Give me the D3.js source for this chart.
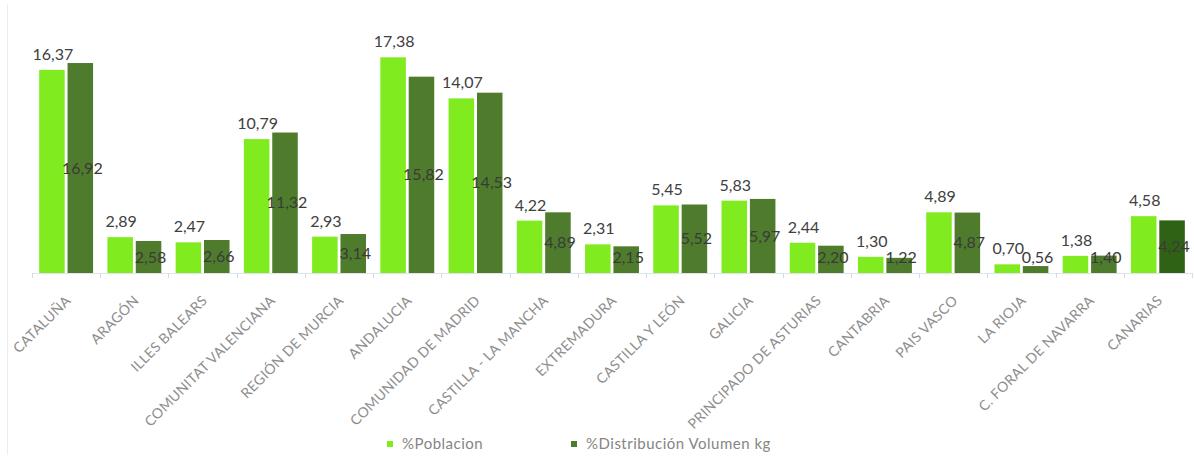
<!DOCTYPE html>
<html>
<head>
<meta charset="utf-8">
<script src="https://cdn.jsdelivr.net/npm/d3@7"></script>
<style>
  html, body { margin: 0; padding: 0; background: #ffffff; }
  svg { display: block; }
</style>
</head>
<body>
<div id="chart"></div>
<script>
const categories = ["CATALUÑA", "ARAGÓN", "ILLES BALEARS", "COMUNITAT VALENCIANA", "REGIÓN DE MURCIA",
  "ANDALUCIA", "COMUNIDAD DE MADRID", "CASTILLA - LA MANCHA", "EXTREMADURA", "CASTILLA Y LEÓN",
  "GALICIA", "PRINCIPADO DE ASTURIAS", "CANTABRIA", "PAIS VASCO", "LA RIOJA", "C. FORAL DE NAVARRA", "CANARIAS"];
const poblacion = [16.37, 2.89, 2.47, 10.79, 2.93, 17.38, 14.07, 4.22, 2.31, 5.45, 5.83, 2.44, 1.30, 4.89, 0.70, 1.38, 4.58];
const distribucion = [16.92, 2.58, 2.66, 11.32, 3.14, 15.82, 14.53, 4.89, 2.15, 5.52, 5.97, 2.20, 1.22, 4.87, 0.56, 1.40, 4.24];
const seriesNames = ["%Poblacion", "%Distribución Volumen kg"];

const W = 1194, H = 459;
const lightGreen = "#80ec20", darkGreen = "#4e7c2c", darkerGreen = "#2f6214";
const fmt = v => v.toFixed(2).replace(".", ",");

const svg = d3.select("#chart").append("svg").attr("width", W).attr("height", H);

// faint chart frame line on the left
svg.append("line").attr("x1", 7.5).attr("x2", 7.5).attr("y1", 4).attr("y2", 455)
  .attr("stroke", "#ececec").attr("stroke-width", 1);

const x0 = d3.scaleBand().domain(categories).range([32, 1192]).paddingInner(0.21).paddingOuter(0.105);
const x1 = d3.scaleBand().domain([0, 1]).range([0, x0.bandwidth()]).paddingInner(0.1);
const y = d3.scaleLinear().domain([0, 20]).range([273, 273 - 20 * 12.41]);

const data = categories.map((c, i) => ({ c, i, vals: [poblacion[i], distribucion[i]] }));

// baseline
svg.append("line").attr("x1", x0.range()[0]).attr("x2", x0.range()[1])
  .attr("y1", y(0) + 0.5).attr("y2", y(0) + 0.5).attr("stroke", "#dfe3ea");
// tick marks at group boundaries
const bounds = d3.range(categories.length + 1).map(i => x0.range()[0] + i * x0.step());
svg.selectAll(".tk").data(bounds).enter().append("line")
  .attr("x1", d => Math.round(d) + 0.5).attr("x2", d => Math.round(d) + 0.5)
  .attr("y1", y(0)).attr("y2", y(0) + 5).attr("stroke", "#d5dae3");

const g = svg.selectAll(".grp").data(data).enter().append("g")
  .attr("transform", d => `translate(${x0(d.c)},0)`);

g.selectAll("rect").data(d => d.vals.map((v, k) => ({ v, k, i: d.i }))).enter().append("rect")
  .attr("x", d => x1(d.k))
  .attr("width", x1.bandwidth())
  .attr("y", d => y(d.v))
  .attr("height", d => y(0) - y(d.v))
  .attr("fill", d => d.k === 0 ? lightGreen : (d.i === categories.length - 1 ? darkerGreen : darkGreen));

// labels for series 1 (above bars)
g.append("text")
  .attr("x", x1(0) + x1.bandwidth() / 2 + 1)
  .attr("y", d => y(d.vals[0]) - 10)
  .attr("text-anchor", "middle")
  .attr("font-family", "Lato, 'Open Sans', sans-serif")
  .attr("font-size", 16)
  .attr("fill", "#404040")
  .text(d => fmt(d.vals[0]));

// labels for series 2 (centered in bars, kept clear of the baseline)
g.append("text")
  .attr("x", x1(1) + x1.bandwidth() / 2 + 2)
  .attr("y", d => Math.min((y(d.vals[1]) + y(0)) / 2, y(0) - 16))
  .attr("dy", "0.35em")
  .attr("text-anchor", "middle")
  .attr("font-family", "Lato, 'Open Sans', sans-serif")
  .attr("font-size", 16)
  .attr("fill", "#3a3a3a")
  .text(d => fmt(d.vals[1]));

// category axis labels
const xAxis = d3.axisBottom(x0).tickSize(0).tickPadding(0);
const ax = svg.append("g").attr("transform", `translate(0,${y(0)})`).call(xAxis);
ax.select(".domain").remove();
ax.selectAll(".tick text")
  .attr("font-family", "Lato, 'Open Sans', sans-serif")
  .attr("font-size", 14)
  .attr("letter-spacing", "0.3px")
  .attr("fill", "#8e8e8e")
  .attr("text-anchor", "end")
  .attr("dy", "0.35em")
  .attr("y", 0)
  .attr("transform", "translate(2,25) rotate(-45)");

// legend
const legend = svg.append("g").attr("font-family", "Lato, 'Open Sans', sans-serif");
const legX = [387, 571];
seriesNames.forEach((name, k) => {
  legend.append("rect").attr("x", legX[k]).attr("y", 441).attr("width", 6).attr("height", 6)
    .attr("fill", k === 0 ? lightGreen : darkGreen);
  legend.append("text").attr("x", legX[k] + 15).attr("y", 444).attr("dy", "0.35em")
    .attr("font-size", 15).attr("letter-spacing", "0.5px").attr("fill", "#858585").text(name);
});
</script>
</body>
</html>
